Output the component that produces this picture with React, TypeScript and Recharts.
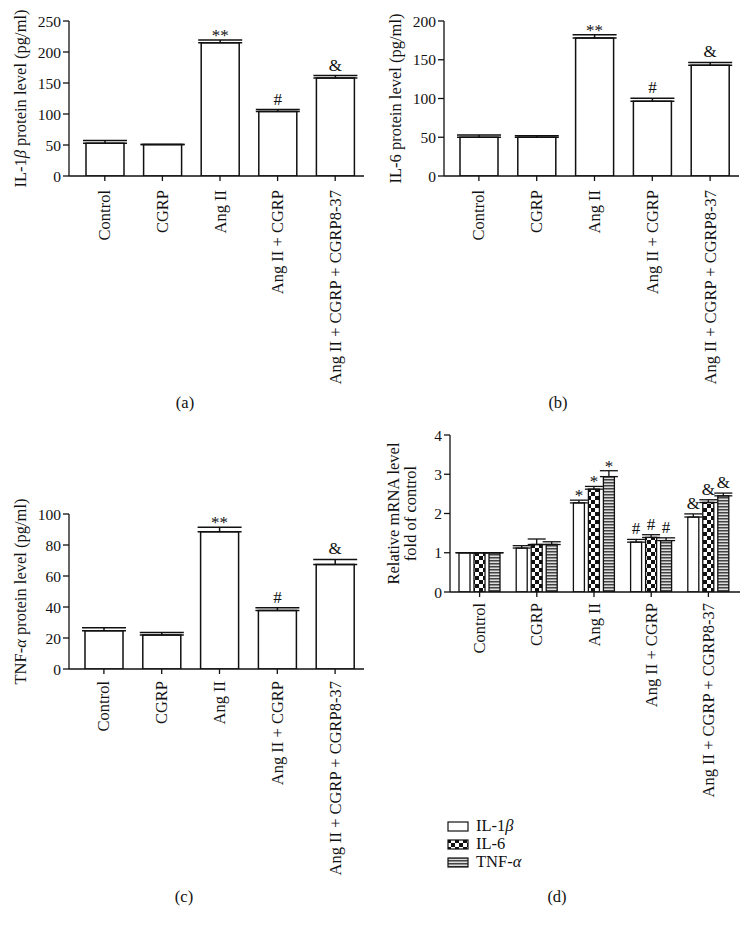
import React from 'react'
import { BarChart, Bar, XAxis, YAxis, ErrorBar, LabelList, Label } from 'recharts'

const FONT = '"Liberation Serif", "DejaVu Serif", serif'
const INK = '#111'

const categories = ['Control', 'CGRP', 'Ang II', 'Ang II + CGRP', 'Ang II + CGRP + CGRP8-37']

// protein levels (pg/ml), mean and upper error
const il1bProtein = [53, 51, 215, 104, 158]
const il1bProteinErr = [4.4, 0, 4.5, 3.2, 4]
const il6Protein = [50, 50, 178, 96.5, 143]
const il6ProteinErr = [3, 1.8, 4.2, 3.8, 3.5]
const tnfProtein = [24.7, 21.9, 88.5, 37.8, 67.5]
const tnfProteinErr = [1.9, 1.7, 2.9, 1.7, 3.2]
const proteinMarks = ['', '', '**', '#', '&']

// relative mRNA, fold of control
const mrnaSeries = ['IL-1β', 'IL-6', 'TNF-α']
const mrnaIl1b = [1, 1.12, 2.27, 1.27, 1.91]
const mrnaIl1bErr = [0, 0.06, 0.07, 0.07, 0.08]
const mrnaIl6 = [1, 1.21, 2.62, 1.39, 2.28]
const mrnaIl6Err = [0, 0.14, 0.07, 0.07, 0.07]
const mrnaTnf = [1, 1.21, 2.94, 1.31, 2.45]
const mrnaTnfErr = [0, 0.07, 0.15, 0.07, 0.07]
const mrnaMarks = ['', '', '*', '#', '&']

const proteinRows = (means: number[], errs: number[]) =>
  categories.map((name, i) => ({ name, mean: means[i], err: [0, errs[i]], mark: proteinMarks[i] }))

const mrnaRows = categories.map((name, i) => ({
  name,
  a: mrnaIl1b[i], aErr: [0, mrnaIl1bErr[i]],
  b: mrnaIl6[i], bErr: [0, mrnaIl6Err[i]],
  c: mrnaTnf[i], cErr: [0, mrnaTnfErr[i]],
  mark: mrnaMarks[i],
}))

const fills = ['#fff', 'url(#checker)', 'url(#stripes)']

const TICK_FS = 15.5
const LABEL_FS = 16.5
const TITLE_FS = 16.5
const MARK_FS = 17

// rotated category labels under the x axis
const RotTick = ({ x, y, payload, dy }: any) => {
  const ty = y + dy
  return (
    <text x={x} y={ty} transform={`rotate(-90 ${x} ${ty})`} textAnchor="end" dominantBaseline="central"
      fontSize={LABEL_FS} fontFamily={FONT} fill={INK}>
      {payload.value}
    </text>
  )
}

// vertical axis title, one or more lines
const axisTitle = (lines: React.ReactNode[], offsets: number[]) => (props: any) => {
  const vb = props.viewBox
  const cy = vb.y + vb.height / 2
  return (
    <g>
      {lines.map((l, i) => {
        const cx = vb.x + offsets[i]
        return (
          <text key={i} x={cx} y={cy} transform={`rotate(-90 ${cx} ${cy})`} textAnchor="middle"
            dominantBaseline="central" fontSize={TITLE_FS} fontFamily={FONT} fill={INK}>{l}</text>
        )
      })}
    </g>
  )
}

// significance mark placed above the error bar of a bar
const markLabel = (rows: any[], valueKey: string, errKey: string) => (props: any) => {
  const { x, y, width, height, index } = props
  const row = rows[index]
  if (!row || !row.mark) return null
  const top = y - (row[errKey][1] / row[valueKey]) * height
  const gap = row.mark.includes('*') ? -1 : 5
  return (
    <text x={x + width / 2} y={top - gap} textAnchor="middle" fontSize={MARK_FS} fontFamily={FONT} fill={INK}>
      {row.mark}
    </text>
  )
}

const axisLine = { stroke: INK, strokeWidth: 1.3 }

function ProteinPanel({ left, top, height, marginTop, rows, max, ticks, title, labelDy, padLeft }: any) {
  const plotH = 155
  return (
    <div style={{ position: 'absolute', left, top }}>
      <BarChart width={375} height={height} data={rows}
        margin={{ top: marginTop, right: 11, left: 8, bottom: 0 }} barCategoryGap={0}>
        <XAxis dataKey="name" interval={0} height={height - marginTop - plotH}
          axisLine={axisLine} tickLine={axisLine} tickSize={5} padding={{ left: padLeft, right: 0 }}
          tick={<RotTick dy={labelDy} />} />
        <YAxis width={61} domain={[0, max]} ticks={ticks} allowDataOverflow
          axisLine={axisLine} tickLine={axisLine} tickSize={6}
          tick={{ fill: INK, fontSize: TICK_FS, fontFamily: FONT }}>
          <Label content={axisTitle([title], [12])} />
        </YAxis>
        <Bar dataKey="mean" fill="#fff" stroke={INK} strokeWidth={1.5} barSize={38} isAnimationActive={false}>
          <ErrorBar dataKey="err" direction="y" width={22} stroke={INK} strokeWidth={1.5} />
          <LabelList dataKey="mark" content={markLabel(rows, 'mean', 'err')} />
        </Bar>
      </BarChart>
    </div>
  )
}

const Caption = ({ x, y, text }: any) => (
  <div style={{ position: 'absolute', left: x, top: y, transform: 'translate(-50%, -50%)', fontSize: 16.5, fontFamily: FONT, color: INK }}>
    {text}
  </div>
)

const legendText = (s: string) => {
  const last = s.slice(-1)
  if (last === 'β' || last === 'α') return <>{s.slice(0, -1)}<i>{last}</i></>
  return s
}

export default function App() {
  const il1b = proteinRows(il1bProtein, il1bProteinErr)
  const il6 = proteinRows(il6Protein, il6ProteinErr)
  const tnf = proteinRows(tnfProtein, tnfProteinErr)

  return (
    <div style={{ position: 'absolute', left: 0, top: 0, width: 750, height: 930, background: '#fff', fontFamily: FONT }}>
      <ProteinPanel left={0} top={0} height={392} marginTop={21} rows={il1b} max={250}
        ticks={[0, 50, 100, 150, 200, 250]} labelDy={7} padLeft={7}
        title={<>IL-1<tspan fontStyle="italic">β</tspan> protein level (pg/ml)</>} />
      <ProteinPanel left={375} top={0} height={392} marginTop={21} rows={il6} max={200}
        ticks={[0, 50, 100, 150, 200]} labelDy={7} padLeft={6}
        title="IL-6 protein level (pg/ml)" />
      <ProteinPanel left={0} top={465} height={465} marginTop={49} rows={tnf} max={100}
        ticks={[0, 20, 40, 60, 80, 100]} labelDy={5} padLeft={6}
        title={<>TNF-<tspan fontStyle="italic">α</tspan> protein level (pg/ml)</>} />

      {/* mRNA panel */}
      <div style={{ position: 'absolute', left: 375, top: 380 }}>
        <BarChart width={375} height={550} data={mrnaRows}
          margin={{ top: 55, right: 10, left: 8, bottom: 0 }} barGap={4} barCategoryGap={0}>
          <defs>
            <pattern id="checker" width="8" height="8" patternUnits="userSpaceOnUse">
              <rect width="8" height="8" fill="#fff" />
              <rect width="4" height="4" fill="#111" />
              <rect x="4" y="4" width="4" height="4" fill="#111" />
            </pattern>
            <pattern id="stripes" width="6" height="3" patternUnits="userSpaceOnUse">
              <rect width="6" height="3" fill="#ddd" />
              <rect width="6" height="1.5" fill="#444" />
            </pattern>
          </defs>
          <XAxis dataKey="name" interval={0} height={338}
            axisLine={axisLine} tickLine={axisLine} tickSize={5} padding={{ left: 1, right: 3 }}
            tick={<RotTick dy={4} />} />
          <YAxis width={67} domain={[0, 4]} ticks={[0, 1, 2, 3, 4]} allowDataOverflow
            axisLine={axisLine} tickLine={axisLine} tickSize={6}
            tick={{ fill: INK, fontSize: TICK_FS, fontFamily: FONT }}>
            <Label content={axisTitle(['Relative mRNA level', 'fold of control'], [10, 27])} />
          </YAxis>
          {['a', 'b', 'c'].map((k, i) => (
            <Bar key={k} dataKey={k} name={mrnaSeries[i]} fill={fills[i]} stroke={INK} strokeWidth={1.3}
              barSize={11} isAnimationActive={false}>
              <ErrorBar dataKey={k + 'Err'} direction="y" width={9} stroke={INK} strokeWidth={1.3} />
              <LabelList dataKey="mark" content={markLabel(mrnaRows, k, k + 'Err')} />
            </Bar>
          ))}
        </BarChart>
      </div>

      {/* legend for the mRNA panel */}
      <div style={{ position: 'absolute', left: 447, top: 817 }}>
        {mrnaSeries.map((s, i) => (
          <div key={s} style={{ display: 'flex', alignItems: 'center', height: 18 }}>
            <svg width={22} height={11} style={{ marginRight: 7 }}>
              <rect x={1} y={1} width={20} height={9} fill={fills[i]} stroke={INK} strokeWidth={1.2} />
            </svg>
            <span style={{ fontSize: 16.5, color: INK, lineHeight: '18px' }}>{legendText(s)}</span>
          </div>
        ))}
      </div>

      <Caption x={185} y={403} text="(a)" />
      <Caption x={558} y={403} text="(b)" />
      <Caption x={184} y={897} text="(c)" />
      <Caption x={557} y={897} text="(d)" />
    </div>
  )
}
